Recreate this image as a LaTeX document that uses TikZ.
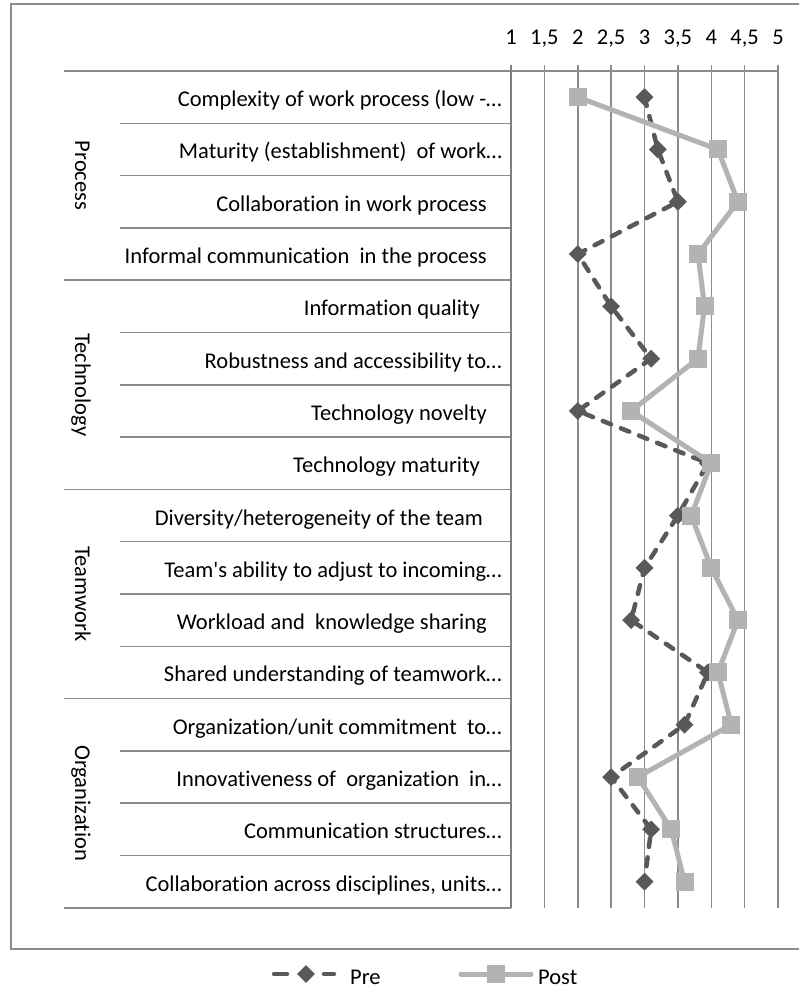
\documentclass[tikz,border=0pt]{standalone}
\usepackage{fontspec}
\setmainfont{Carlito}[Ligatures={TeXOff,NoCommon}]
\usetikzlibrary{shapes.geometric}
\definecolor{pregray}{HTML}{595959}
\definecolor{postgray}{HTML}{B3B3B3}
\definecolor{gridgray}{HTML}{8C8C8C}
\definecolor{framegray}{HTML}{8C8C8C}
\tikzset{
  gridline/.style={draw=gridgray, line width=1.5pt},
  axisline/.style={draw=gridgray!90!black, line width=2pt},
  framebox/.style={draw=framegray, line width=1.6pt},
  txt/.style={font=\fontsize{22.5}{25}\selectfont, text=black, inner sep=0pt},
  ticklab/.style={txt, anchor=base},
  itemlab/.style={txt, anchor=base east},
  catlab/.style={txt, anchor=base, rotate=-90},
  preline/.style={draw=pregray, line width=4.5pt, line cap=round, dash pattern=on 9pt off 10.5pt},
  postline/.style={draw=postgray, line width=5pt, line join=round},
  premark/.style={diamond, fill=pregray, inner sep=0pt, minimum width=18pt, minimum height=18pt},
  postmark/.style={rectangle, fill=postgray, inner sep=0pt, minimum size=18pt},
}
\begin{document}
\begin{tikzpicture}[x=1pt, y=-1pt]
\useasboundingbox (0,0) rectangle (798,990);
\fill[white] (0,0) rectangle (798,990);
\draw[framebox] (11,4) rectangle (812,949);

% vertical gridlines
\foreach \i in {1,...,8}
  \draw[gridline] ({511+33.375*\i},65) -- ({511+33.375*\i},908);
% top line
\draw[gridline] (64,71) -- (778,71);
% row separators
\foreach \k in {1,2,3,5,6,7,9,10,11,13,14,15}
  \draw[gridline] (120,{71+52.3*\k}) -- (511,{71+52.3*\k});
\foreach \k in {4,8,12,16}
  \draw[gridline] (64,{71+52.3*\k}) -- (511,{71+52.3*\k});
% axis
\draw[axisline] (511,65) -- (511,908);

% tick labels
\foreach \i/\t in {0/1,1/{1,5},2/2,3/{2,5},4/3,5/{3,5},6/4,7/{4,5},8/5}
  \node[ticklab] (tick\i) at ({511+33.375*\i},44.5) {\t};

% category labels
\node[catlab] (catP) at (75,175.6) {Process};
\node[catlab] (catT) at (75,384.8) {Technology};
\node[catlab] (catW) at (75,594) {Teamwork};
\node[catlab] (catO) at (75,803.2) {Organization};

% item labels
\foreach \x/\t [count=\i] in {
 502/{Complexity of work process (low -…},
 502/{Maturity (establishment)\ \ of work…},
 487/{Collaboration in work process},
 487/{Informal communication\ \ in the process},
 480/{Information quality},
 502/{Robustness and accessibility to…},
 487/{Technology novelty},
 480/{Technology maturity},
 483/{Diversity/heterogeneity of the team},
 502/{Team's ability to adjust to incoming…},
 487/{Workload and\ \ knowledge sharing},
 502/{Shared understanding of teamwork…},
 502/{Organization/unit commitment\ \ to…},
 502/{Innovativeness of\ \ organization\ \ in…},
 502/{Communication structures…},
 502/{Collaboration across disciplines, units…}}
  \node[itemlab] (lab\i) at (\x,{71+52.3*(\i-0.5)+9.5}) {\t};

% data coordinates
\foreach \v [count=\i] in {3.0,3.2,3.5,2.0,2.5,3.1,2.0,3.95,3.5,3.0,2.8,3.95,3.6,2.5,3.1,3.0}
  \coordinate (pre\i) at ({511+66.75*(\v-1)},{71+52.3*(\i-0.5)});
\foreach \v [count=\i] in {2.0,4.1,4.4,3.8,3.9,3.8,2.8,4.0,3.7,4.0,4.4,4.1,4.3,2.9,3.4,3.6}
  \coordinate (post\i) at ({511+66.75*(\v-1)},{71+52.3*(\i-0.5)});

% Pre series
\draw[preline] (pre1) \foreach \i in {2,...,16} { -- (pre\i) };
\foreach \i in {1,...,16} \node[premark] (pm\i) at (pre\i) {};
% Post series
\draw[postline] (post1) \foreach \i in {2,...,16} { -- (post\i) };
\foreach \i in {1,...,16} \node[postmark] (qm\i) at (post\i) {};

% legend
\coordinate (lpa) at (274,974);
\coordinate (lpb) at (287,974);
\coordinate (lpc) at (324,974);
\coordinate (lpd) at (334,974);
\draw[preline, solid] (lpa) -- (lpb);
\draw[preline, solid] (lpc) -- (lpd);
\node[premark] (lpm) at (306,974) {};
\node[txt, anchor=base west] (lpt) at (350,984.5) {Pre};
\coordinate (lqa) at (461,974);
\coordinate (lqb) at (531,974);
\draw[postline, line cap=round] (lqa) -- (lqb);
\node[postmark] (lqm) at (496,974) {};
\node[txt, anchor=base west] (lqt) at (538,984.5) {Post};
\end{tikzpicture}
\end{document}
